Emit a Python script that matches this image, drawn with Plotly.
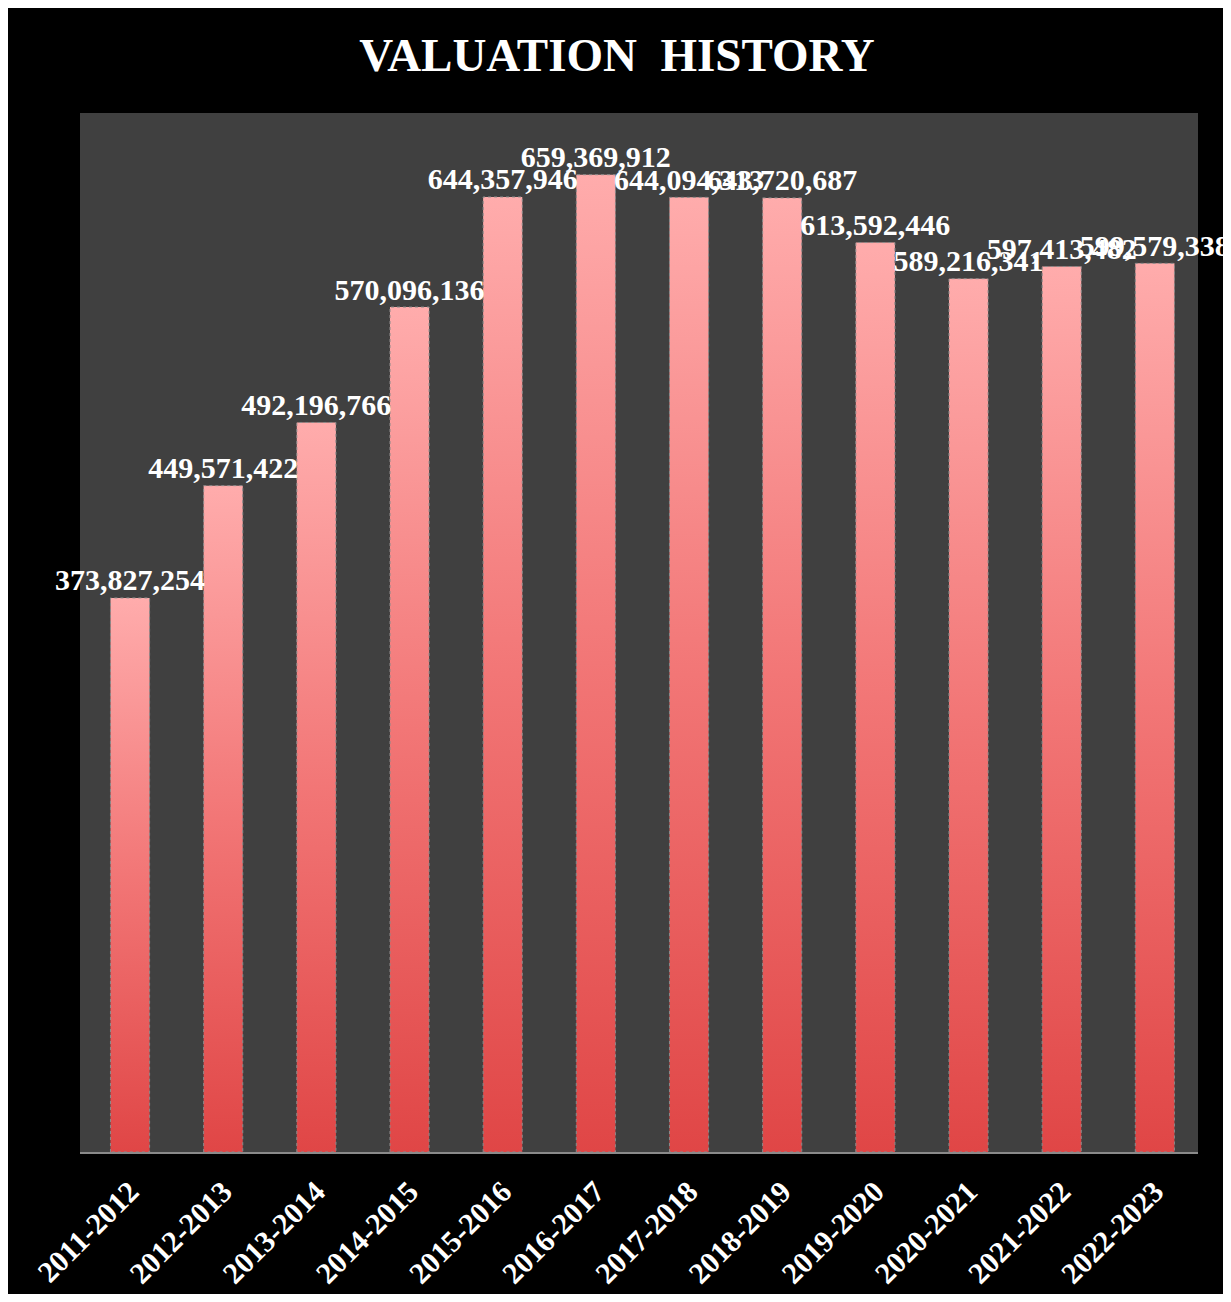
import plotly.graph_objects as go

periods = ["2011-2012", "2012-2013", "2013-2014", "2014-2015", "2015-2016", "2016-2017",
           "2017-2018", "2018-2019", "2019-2020", "2020-2021", "2021-2022", "2022-2023"]
valuations = [373827254, 449571422, 492196766, 570096136, 644357946, 659369912,
              644094313, 643720687, 613592446, 589216341, 597413482, 599579338]

half_w = 0.21
serif = "Liberation Serif, Times New Roman, serif"

fig = go.Figure()

# one filled polygon per bar so each gets its own vertical gradient
for i, v in enumerate(valuations):
    fig.add_trace(go.Scatter(
        x=[i - half_w, i - half_w, i + half_w, i + half_w, i - half_w],
        y=[0, v, v, 0, 0],
        mode="lines", fill="toself",
        line=dict(color="#8a8a8a", width=1, dash="dot"),
        fillgradient=dict(type="vertical",
                          colorscale=[[0, "#e04646"], [0.5, "#f27676"], [1, "#ffacac"]]),
        hoverinfo="skip", showlegend=False))

fig.add_trace(go.Scatter(
    x=list(range(len(periods))), y=valuations, mode="text",
    text=[f"<b>{v:,}</b>" for v in valuations], textposition="top center",
    textfont=dict(family=serif, size=30, color="white"),
    showlegend=False, cliponaxis=False))

fig.update_layout(
    width=1215, height=1286,
    margin=dict(l=72, r=25, t=105, b=142),
    paper_bgcolor="black", plot_bgcolor="#404040",
    title=dict(text="<b>VALUATION  HISTORY</b>", x=(617 - 8) / 1215, xanchor="center",
               y=1 - 47 / 1286, yanchor="middle", yref="container",
               font=dict(family=serif, size=47, color="white")),
    xaxis=dict(range=[-0.537, 11.463], tickmode="array", tickvals=list(range(len(periods))),
               ticktext=[f"<b>{p}</b>" for p in periods], tickangle=-45,
               tickfont=dict(family=serif, size=30, color="white"),
               showgrid=False, zeroline=False, showline=True, linecolor="#8a8a8a",
               linewidth=2, ticks="outside", ticklen=8, tickcolor="rgba(0,0,0,0)",
               automargin=False),
    yaxis=dict(range=[0, 701000000], visible=False, showgrid=False, automargin=False),
)

fig.write_html("out.html")
